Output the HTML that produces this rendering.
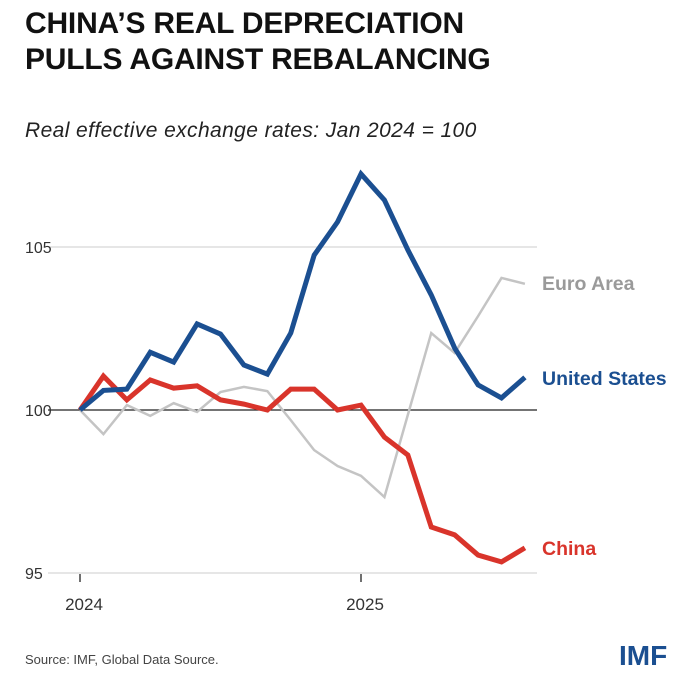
<!DOCTYPE html>
<html><head><meta charset="utf-8"><style>
body{margin:0;width:700px;height:680px;background:#fff;font-family:"Liberation Sans",sans-serif;overflow:hidden;position:relative}
.t{position:absolute;left:25px;top:6px;font-size:30px;font-weight:900;line-height:36px;color:#111;letter-spacing:-0.2px}
.s{position:absolute;left:25px;top:119px;font-size:21px;font-style:italic;color:#222;letter-spacing:0.4px}
.src{position:absolute;left:25px;top:652px;font-size:13px;color:#444}
.imf{position:absolute;left:619px;top:640px;font-size:28px;font-weight:900;color:#1b4f91}
</style></head><body>
<div class="t">CHINA’S REAL DEPRECIATION<br>PULLS AGAINST REBALANCING</div>
<div class="s">Real effective exchange rates: Jan 2024 = 100</div>
<svg id="c" width="700" height="680" style="position:absolute;left:0;top:0"></svg>
<div class="src">Source: IMF, Global Data Source.</div>
<div class="imf">IMF</div>
<script>
const months=[0,1,2,3,4,5,6,7,8,9,10,11,12,13,14,15,16,17,18,19];
const usValues=[100,100.6,100.64,101.77,101.47,102.64,102.33,101.38,101.1,102.36,104.75,105.77,107.24,106.44,104.91,103.53,101.9,100.77,100.37,101.0];
const chinaValues=[100,101.04,100.31,100.92,100.67,100.74,100.31,100.18,100,100.64,100.64,100,100.15,99.17,98.62,96.41,96.17,95.55,95.34,95.77];
const euroValues=[100,99.26,100.15,99.82,100.21,99.94,100.55,100.71,100.58,99.69,98.77,98.28,97.98,97.33,99.85,102.36,101.75,102.88,104.05,103.87];
const yTicks=[95,100,105];
const xTickLabels=[{m:0,l:"2024"},{m:12,l:"2025"}];
const svg=document.getElementById('c');
const NS="http://www.w3.org/2000/svg";
const xs=m=>80+m*(281/12);
const ys=v=>410-(v-100)*32.6;
function mk(t,a){const e=document.createElementNS(NS,t);for(const k in a)e.setAttribute(k,a[k]);svg.appendChild(e);return e;}
yTicks.forEach(v=>{
 const g=mk('line',{x1:48,x2:537,y1:ys(v),y2:ys(v),stroke:v===100?'#222':'#ccc','stroke-width':v===100?1.3:1});
 
 
 const t=mk('text',{x:25,y:ys(v)+6,'font-size':16,fill:'#333'});t.textContent=v;
 
 
});
xTickLabels.forEach(o=>{
 const l=mk('line',{x1:xs(o.m),x2:xs(o.m),y1:574,y2:582,stroke:'#222','stroke-width':1.3});
 
 
 const t=mk('text',{x:xs(o.m)+4,y:610,'font-size':17,fill:'#333','text-anchor':'middle'});t.textContent=o.l;
 
 
});
function line(vals,color,w,name){
 const p=mk('polyline',{points:vals.map((v,i)=>xs(months[i])+','+ys(v)).join(' '),fill:'none',stroke:color,'stroke-width':w,'stroke-linejoin':'miter'});
 
 
}
line(euroValues,'#c4c4c4',2.5,'euro-area-line');
line(chinaValues,'#d9342b',5,'china-line');
line(usValues,'#1b4f91',5,'us-line');
function lab(txt,y,color,name){const t=mk('text',{x:542,y:y,'font-size':19.5,'font-weight':'bold',fill:color});t.textContent=txt;
 
 }
lab('Euro Area',290,'#9a9a9a','euro-area-label');
lab('United States',385,'#1b4f91','us-label');
lab('China',555,'#d9342b','china-label');
</script>
</body></html>
